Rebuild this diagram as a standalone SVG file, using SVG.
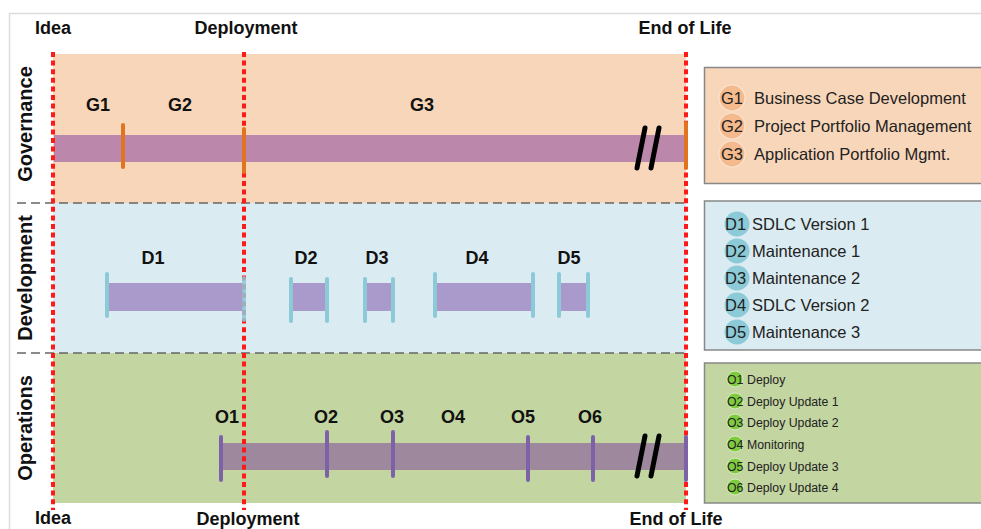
<svg xmlns="http://www.w3.org/2000/svg" width="981" height="529" viewBox="0 0 981 529">
  <style>
    .ms { font-family: "Liberation Sans", Arial, sans-serif; font-weight: bold; font-size: 18px; fill: #111; text-anchor: middle; }
    .lane { font-family: "Liberation Sans", Arial, sans-serif; font-weight: bold; font-size: 20px; fill: #111; text-anchor: middle; }
    .lbl { font-family: "Liberation Sans", Arial, sans-serif; font-weight: bold; font-size: 18px; fill: #111; text-anchor: middle; }
    .leg { font-family: "Liberation Sans", Arial, sans-serif; font-size: 16.5px; fill: #222; }
    .legs { font-family: "Liberation Sans", Arial, sans-serif; font-size: 12.3px; fill: #222; }
    .sep { stroke: #666; stroke-width: 1.3; stroke-dasharray: 9 5; fill: none; }
    .gate { stroke: #ff1a1a; stroke-width: 4; stroke-dasharray: 5 3.6; fill: none; }
    .gtick { stroke: #e07420; stroke-width: 4; stroke-linecap: round; }
    .dtick { stroke: #8ccad8; stroke-width: 4; stroke-linecap: round; }
    .otick { stroke: #7e62a8; stroke-width: 4; stroke-linecap: round; }
    .brk { stroke: #000; stroke-width: 5; stroke-linecap: round; }
    .box { stroke: #888; stroke-width: 1.5; }
  </style>

  <!-- outer frame -->
  <path d="M9.5 529 V13.5 H981" fill="none" stroke="#dcdcdc" stroke-width="1.5"/>

  <!-- swimlane bands -->
  <g id="lanes">
    <rect x="53" y="54" width="633" height="149" fill="#f8d6b9"/>
    <rect x="53" y="203" width="633" height="150" fill="#daebf1"/>
    <rect x="53" y="353" width="633" height="150" fill="#c3d5a0"/>
    <line class="sep" x1="17" y1="203" x2="686" y2="203"/>
    <line class="sep" x1="17" y1="353" x2="686" y2="353"/>
  </g>

  <!-- lane titles -->
  <g id="lane-titles">
    <text class="lane" transform="translate(32 124) rotate(-90)">Governance</text>
    <text class="lane" transform="translate(32 278) rotate(-90)">Development</text>
    <text class="lane" transform="translate(32 428) rotate(-90)">Operations</text>
  </g>

  <!-- governance track -->
  <g id="governance">
    <rect x="54" y="135" width="632" height="27" fill="#bb88ab"/>
    <text class="lbl" x="98" y="111">G1</text>
    <text class="lbl" x="180" y="111">G2</text>
    <text class="lbl" x="422" y="111">G3</text>
  </g>

  <!-- development track -->
  <g id="development">
    <g fill="#aa99cb">
      <rect x="108" y="283" width="136" height="28"/>
      <rect x="291" y="283" width="37" height="28"/>
      <rect x="365" y="283" width="28" height="28"/>
      <rect x="435" y="283" width="98" height="28"/>
      <rect x="559" y="283" width="30" height="28"/>
    </g>
    <text class="lbl" x="153" y="264">D1</text>
    <text class="lbl" x="306" y="264">D2</text>
    <text class="lbl" x="377" y="264">D3</text>
    <text class="lbl" x="477" y="264">D4</text>
    <text class="lbl" x="569" y="264">D5</text>
  </g>

  <!-- operations track -->
  <g id="operations">
    <rect x="221" y="443" width="465" height="27" fill="#9e889d"/>
    <text class="lbl" x="227" y="423">O1</text>
    <text class="lbl" x="326" y="423">O2</text>
    <text class="lbl" x="392" y="423">O3</text>
    <text class="lbl" x="453" y="423">O4</text>
    <text class="lbl" x="523" y="423">O5</text>
    <text class="lbl" x="590" y="423">O6</text>
  </g>

  <!-- phase gates -->
  <g id="gates">
    <line class="gate" x1="53" y1="52" x2="53" y2="510"/>
    <line class="gate" x1="244" y1="52" x2="244" y2="510"/>
    <line class="gate" x1="686" y1="52" x2="686" y2="510"/>
  </g>

  <!-- milestone ticks and break marks, drawn over the gates -->
  <g id="governance-ticks">
    <line class="gtick" x1="123" y1="125" x2="123" y2="167"/>
    <line class="gtick" x1="244" y1="129" x2="244" y2="172"/>
    <line class="gtick" x1="686" y1="123" x2="686" y2="168"/>
    <line class="brk" x1="645" y1="128" x2="637" y2="168"/>
    <line class="brk" x1="659" y1="128" x2="651" y2="168"/>
  </g>
  <g id="development-ticks">
    <line class="dtick" x1="107" y1="274" x2="107" y2="316"/>
    <line class="dtick" x1="244" y1="278" x2="244" y2="320" stroke-opacity="0.85"/>
    <line class="dtick" x1="291" y1="279" x2="291" y2="321"/>
    <line class="dtick" x1="327" y1="279" x2="327" y2="321"/>
    <line class="dtick" x1="365" y1="279" x2="365" y2="321"/>
    <line class="dtick" x1="393" y1="279" x2="393" y2="321"/>
    <line class="dtick" x1="435" y1="274" x2="435" y2="316"/>
    <line class="dtick" x1="533" y1="274" x2="533" y2="316"/>
    <line class="dtick" x1="559" y1="274" x2="559" y2="316"/>
    <line class="dtick" x1="588" y1="274" x2="588" y2="316"/>
  </g>
  <g id="operations-ticks">
    <line class="otick" x1="221" y1="437" x2="221" y2="480"/>
    <line class="otick" x1="327" y1="432" x2="327" y2="476"/>
    <line class="otick" x1="393" y1="432" x2="393" y2="476"/>
    <line class="otick" x1="528" y1="437" x2="528" y2="480"/>
    <line class="otick" x1="593" y1="437" x2="593" y2="480"/>
    <line class="otick" x1="686" y1="437" x2="686" y2="480"/>
    <line class="brk" x1="645" y1="436" x2="637" y2="476"/>
    <line class="brk" x1="659" y1="436" x2="651" y2="476"/>
  </g>

  <!-- milestone captions -->
  <g id="milestones">
    <text class="ms" x="53" y="34">Idea</text>
    <text class="ms" x="246" y="34">Deployment</text>
    <text class="ms" x="685" y="34">End of Life</text>
    <text class="ms" x="53" y="524">Idea</text>
    <text class="ms" x="248" y="525">Deployment</text>
    <text class="ms" x="676" y="525">End of Life</text>
  </g>

  <!-- governance key -->
  <g id="legend-governance">
    <rect class="box" x="704.5" y="67.5" width="285" height="116" fill="#f8d6b9"/>
    <g fill="#f4b98c" stroke="#fbe4d2" stroke-width="1.2">
      <circle cx="732" cy="98" r="13"/>
      <circle cx="732" cy="126" r="13"/>
      <circle cx="732" cy="154" r="13"/>
    </g>
    <text class="leg" x="721" y="104">G1</text>
    <text class="leg" x="721" y="132">G2</text>
    <text class="leg" x="721" y="160">G3</text>
    <text class="leg" x="754" y="104">Business Case Development</text>
    <text class="leg" x="754" y="132">Project Portfolio Management</text>
    <text class="leg" x="754" y="160">Application Portfolio Mgmt.</text>
  </g>

  <!-- development key -->
  <g id="legend-development">
    <rect class="box" x="704.5" y="201" width="285" height="149" fill="#daebf1"/>
    <g fill="#8ccad8">
      <circle cx="737" cy="224" r="12.5"/>
      <circle cx="737" cy="251" r="12.5"/>
      <circle cx="737" cy="278" r="12.5"/>
      <circle cx="737" cy="305" r="12.5"/>
      <circle cx="737" cy="332" r="12.5"/>
    </g>
    <text class="leg" x="725" y="230">D1</text>
    <text class="leg" x="725" y="257">D2</text>
    <text class="leg" x="725" y="284">D3</text>
    <text class="leg" x="725" y="311">D4</text>
    <text class="leg" x="725" y="338">D5</text>
    <text class="leg" x="752" y="230">SDLC Version 1</text>
    <text class="leg" x="752" y="257">Maintenance 1</text>
    <text class="leg" x="752" y="284">Maintenance 2</text>
    <text class="leg" x="752" y="311">SDLC Version 2</text>
    <text class="leg" x="752" y="338">Maintenance 3</text>
  </g>

  <!-- operations key -->
  <g id="legend-operations">
    <rect class="box" x="704.5" y="363" width="285" height="140" fill="#c3d5a0"/>
    <g fill="#7fcb3e" stroke="#d8ecc4" stroke-width="1">
      <circle cx="735" cy="379" r="8"/>
      <circle cx="735" cy="401" r="8"/>
      <circle cx="735" cy="422" r="8"/>
      <circle cx="735" cy="444" r="8"/>
      <circle cx="735" cy="466" r="8"/>
      <circle cx="735" cy="487" r="8"/>
    </g>
    <text class="legs" x="727" y="383.5">O1</text>
    <text class="legs" x="727" y="405.5">O2</text>
    <text class="legs" x="727" y="426.5">O3</text>
    <text class="legs" x="727" y="448.5">O4</text>
    <text class="legs" x="727" y="470.5">O5</text>
    <text class="legs" x="727" y="491.5">O6</text>
    <text class="legs" x="747" y="383.5">Deploy</text>
    <text class="legs" x="747" y="405.5">Deploy Update 1</text>
    <text class="legs" x="747" y="426.5">Deploy Update 2</text>
    <text class="legs" x="747" y="448.5">Monitoring</text>
    <text class="legs" x="747" y="470.5">Deploy Update 3</text>
    <text class="legs" x="747" y="491.5">Deploy Update 4</text>
  </g>
</svg>
